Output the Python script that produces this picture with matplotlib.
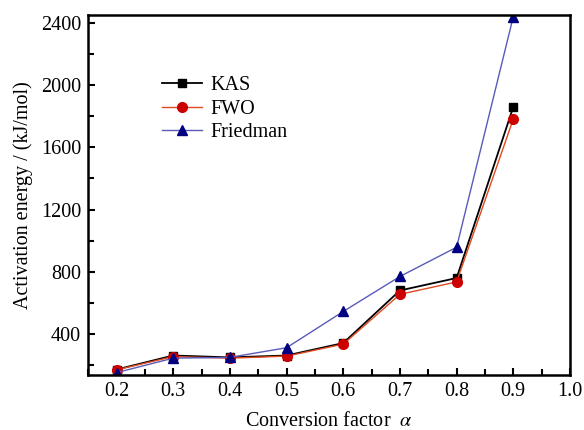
import matplotlib
matplotlib.use('Agg')
import matplotlib.pyplot as plt
from matplotlib.ticker import MultipleLocator

alpha = [0.2, 0.3, 0.4, 0.5, 0.6, 0.7, 0.8, 0.9]
kas = [172, 262, 250, 262, 342, 680, 760, 1860]
fwo = [170, 255, 245, 258, 335, 655, 735, 1782]
friedman = [152, 245, 250, 312, 545, 770, 958, 2440]

plt.rcParams['font.family'] = ['Liberation Serif', 'DejaVu Serif']
plt.rcParams['mathtext.fontset'] = 'stix'

fig, ax = plt.subplots(figsize=(5.84, 4.30), dpi=100)
fig.subplots_adjust(left=0.151, right=0.976, top=0.965, bottom=0.128)

ax.plot(alpha, kas, color='black', marker='s', markersize=6, linewidth=1.3, label='KAS')
ax.plot(alpha, fwo, color='#e04a20', marker='o', markersize=7, markerfacecolor='#cc0000',
        markeredgecolor='#cc0000', linewidth=1.0, label='FWO')
ax.plot(alpha, friedman, color='#5a5ab8', marker='^', markersize=7, markerfacecolor='#000080',
        markeredgecolor='#000080', linewidth=1.0, label='Friedman')

ax.set_xlim(0.15, 1.0)
ax.set_ylim(137, 2450)
ax.xaxis.set_minor_locator(MultipleLocator(0.05))
ax.yaxis.set_minor_locator(MultipleLocator(200))
ax.set_xticks([0.2, 0.3, 0.4, 0.5, 0.6, 0.7, 0.8, 0.9, 1.0])
ax.set_yticks([400, 800, 1200, 1600, 2000, 2400])
ax.tick_params(which='both', direction='in', width=1.5, labelsize=14.5, top=False, right=False)
ax.tick_params(which='major', length=5, pad=5)
ax.tick_params(which='minor', length=4)
for s in ax.spines.values():
    s.set_linewidth(1.8)

ax.set_xlabel(r'Conversion factor  $\it{\alpha}$', fontsize=14.5, labelpad=8)
ax.set_ylabel('Activation energy / (kJ/mol)', fontsize=14.5, labelpad=6)

ax.legend(loc='upper left', bbox_to_anchor=(0.115, 0.88), frameon=False, fontsize=14.5,
          handlelength=2.0, handletextpad=0.4, labelspacing=0.2)

fig.savefig('out.png', dpi=100)
